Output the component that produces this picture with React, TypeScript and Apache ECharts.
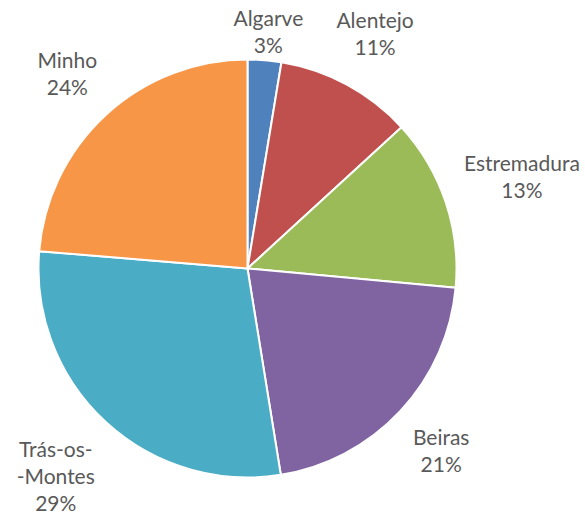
import React, { useEffect, useRef } from "react";
import * as echarts from "echarts";

const regions = ["Algarve", "Alentejo", "Estremadura", "Beiras", "Trás-os-Montes", "Minho"];
const labelNames = ["Algarve", "Alentejo", "Estremadura", "Beiras", "Trás-os-\n-Montes", "Minho"];
const shares = [2.6, 10.6, 13.3, 21.0, 28.9, 23.7];
const colors = ["#4F81BD", "#C0504D", "#9BBB59", "#8064A2", "#4BACC6", "#F79646"];

const W = 585;
const H = 518;
const CX = 247.5;
const CY = 268.5;
const R = 209;
const GAP = 17;

export default function App() {
  const ref = useRef<HTMLDivElement>(null);
  useEffect(() => {
    if (!ref.current) return;
    const chart = echarts.init(ref.current, null, { renderer: "svg" });
    const total = shares.reduce((a, b) => a + b, 0);
    const mids: number[] = [];
    let acc = 0;
    shares.forEach((v) => {
      mids.push(((acc + v / 2) / total) * Math.PI * 2);
      acc += v;
    });
    chart.setOption({
      animation: false,
      backgroundColor: "#ffffff",
      series: [
        {
          type: "pie",
          center: [CX, CY],
          radius: [0, R],
          startAngle: 90,
          clockwise: true,
          avoidLabelOverlap: false,
          itemStyle: { borderColor: "#ffffff", borderWidth: 2 },
          label: {
            show: true,
            position: "outside",
            color: "#595959",
            fontFamily: "Lato",
            fontSize: 21,
            lineHeight: 27,
            align: "center",
            formatter: (p: any) => `${labelNames[p.dataIndex]}\n${Math.round(p.percent)}%`,
          },
          labelLine: { show: false },
          emphasis: { disabled: true },
          labelLayout: (p: any) => {
            const th = mids[p.dataIndex];
            const w = p.labelRect.width / 2;
            const h = p.labelRect.height / 2;
            const s = Math.sin(th);
            const c = Math.cos(th);
            const d = R + GAP + Math.abs(w * s) + Math.abs(h * c);
            let x = CX + d * s;
            let y = CY - d * c;
            x = Math.min(Math.max(x, w + 4), W - w - 4);
            y = Math.min(Math.max(y, h + 4), H - h - 2);
            return { x, y, align: "center", verticalAlign: "middle" };
          },
          data: regions.map((name, i) => ({
            name,
            value: shares[i],
            itemStyle: { color: colors[i] },
          })),
        },
      ],
    });
    return () => chart.dispose();
  }, []);
  return (
    <div
      ref={ref}
      style={{ position: "fixed", left: 0, top: 0, width: W, height: H }}
    />
  );
}
